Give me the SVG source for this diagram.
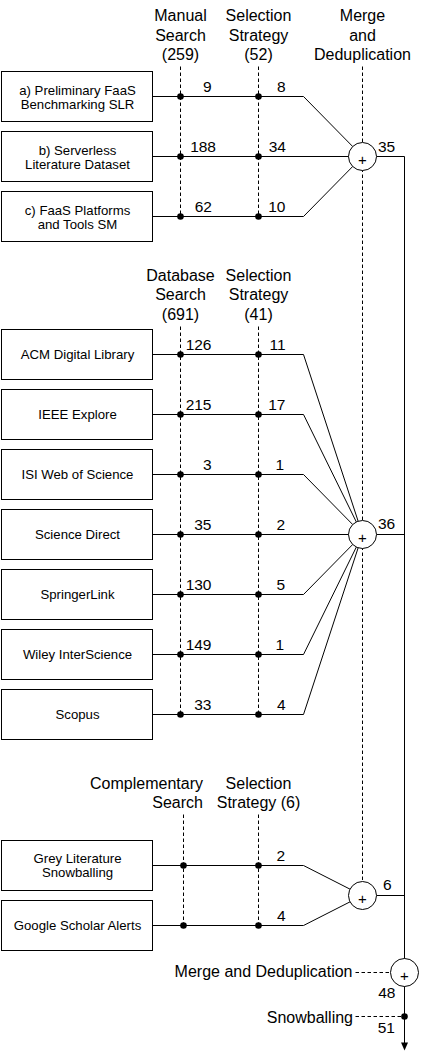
<svg xmlns="http://www.w3.org/2000/svg" width="430" height="1054" viewBox="0 0 430 1054">
<style>
  .box{fill:#fff;stroke:#000;stroke-width:1}
  .bt{font-family:"Liberation Sans",Arial,sans-serif;font-size:13.2px;fill:#000;text-anchor:middle}
  .hd{font-family:"Liberation Sans",Arial,sans-serif;font-size:16px;fill:#000;text-anchor:middle}
  .num{font-family:"Liberation Sans",Arial,sans-serif;font-size:15.5px;fill:#000}
  .ln{fill:none;stroke:#000;stroke-width:1}
  .dash{fill:none;stroke:#000;stroke-width:1;stroke-dasharray:3.5 2.5}
  .dot{fill:#000}
  .circ{fill:#fff;stroke:#000;stroke-width:1}
  .plus{font-family:"Liberation Sans",Arial,sans-serif;font-size:15px;fill:#000;text-anchor:middle}
</style>
<rect width="430" height="1054" fill="#fff"/>
<g transform="translate(0.5,0.5)">

<!-- headers -->
<g id="headers">
  <text class="hd" x="180" y="20.7">Manual</text>
  <text class="hd" x="180" y="40">Search</text>
  <text class="hd" x="180" y="59.3">(259)</text>
  <text class="hd" x="258" y="20.7">Selection</text>
  <text class="hd" x="258" y="40">Strategy</text>
  <text class="hd" x="258" y="59.3">(52)</text>
  <text class="hd" x="362" y="20.7">Merge</text>
  <text class="hd" x="362" y="40">and</text>
  <text class="hd" x="362" y="59.3">Deduplication</text>
  <text class="hd" x="180" y="280.5">Database</text>
  <text class="hd" x="180" y="299.8">Search</text>
  <text class="hd" x="180" y="319.1">(691)</text>
  <text class="hd" x="258" y="280.5">Selection</text>
  <text class="hd" x="258" y="299.8">Strategy</text>
  <text class="hd" x="258" y="319.1">(41)</text>
  <text class="hd" x="202.5" y="788" style="text-anchor:end">Complementary</text>
  <text class="hd" x="202.5" y="807" style="text-anchor:end">Search</text>
  <text class="hd" x="258" y="788">Selection</text>
  <text class="hd" x="258" y="807">Strategy (6)</text>
</g>

<!-- connectors -->
<g id="connectors">
  <!-- dashed columns -->
  <line class="dash" x1="180" y1="66" x2="180" y2="216"/>
  <line class="dash" x1="258" y1="66" x2="258" y2="216"/>
  <line class="dash" x1="362" y1="66" x2="362" y2="881"/>
  <line class="dash" x1="180" y1="326" x2="180" y2="714"/>
  <line class="dash" x1="258" y1="326" x2="258" y2="714"/>
  <line class="dash" x1="183" y1="814" x2="183" y2="925"/>
  <line class="dash" x1="258" y1="814" x2="258" y2="925"/>
  <line class="dash" x1="355" y1="972" x2="389.5" y2="972"/>
  <line class="dash" x1="355" y1="1016" x2="404" y2="1016"/>

  <!-- section 1 -->
  <polyline class="ln" points="152,96 303,96 362,156"/>
  <polyline class="ln" points="152,156 362,156"/>
  <polyline class="ln" points="152,216 303,216 362,156"/>
  <!-- section 2 -->
  <polyline class="ln" points="152,354 303,354 362,534"/>
  <polyline class="ln" points="152,414 303,414 362,534"/>
  <polyline class="ln" points="152,474 303,474 362,534"/>
  <polyline class="ln" points="152,534 362,534"/>
  <polyline class="ln" points="152,594 303,594 362,534"/>
  <polyline class="ln" points="152,654 303,654 362,534"/>
  <polyline class="ln" points="152,714 303,714 362,534"/>
  <!-- section 3 -->
  <polyline class="ln" points="152,865 303,865 362,895"/>
  <polyline class="ln" points="152,925 303,925 362,895"/>

  <!-- outputs -->
  <polyline class="ln" points="376,156 404,156 404,1043"/>
  <line class="ln" x1="376" y1="534" x2="404" y2="534"/>
  <line class="ln" x1="376" y1="895" x2="404" y2="895"/>
  <polygon points="400.5,1042 407.5,1042 404,1050" fill="#000"/>

  <!-- dots -->
  <circle class="dot" cx="180" cy="96" r="3.3"/>
  <circle class="dot" cx="258" cy="96" r="3.3"/>
  <circle class="dot" cx="180" cy="156" r="3.3"/>
  <circle class="dot" cx="258" cy="156" r="3.3"/>
  <circle class="dot" cx="180" cy="216" r="3.3"/>
  <circle class="dot" cx="258" cy="216" r="3.3"/>
  <circle class="dot" cx="180" cy="354" r="3.3"/>
  <circle class="dot" cx="258" cy="354" r="3.3"/>
  <circle class="dot" cx="180" cy="414" r="3.3"/>
  <circle class="dot" cx="258" cy="414" r="3.3"/>
  <circle class="dot" cx="180" cy="474" r="3.3"/>
  <circle class="dot" cx="258" cy="474" r="3.3"/>
  <circle class="dot" cx="180" cy="534" r="3.3"/>
  <circle class="dot" cx="258" cy="534" r="3.3"/>
  <circle class="dot" cx="180" cy="594" r="3.3"/>
  <circle class="dot" cx="258" cy="594" r="3.3"/>
  <circle class="dot" cx="180" cy="654" r="3.3"/>
  <circle class="dot" cx="258" cy="654" r="3.3"/>
  <circle class="dot" cx="180" cy="714" r="3.3"/>
  <circle class="dot" cx="258" cy="714" r="3.3"/>
  <circle class="dot" cx="183" cy="865" r="3.3"/>
  <circle class="dot" cx="258" cy="865" r="3.3"/>
  <circle class="dot" cx="183" cy="925" r="3.3"/>
  <circle class="dot" cx="258" cy="925" r="3.3"/>
  <circle class="dot" cx="404" cy="1016" r="3.3"/>

  <!-- numbers -->
  <g class="num">
    <text x="211" y="91.5" text-anchor="end">9</text>
    <text x="285" y="91.5" text-anchor="end">8</text>
    <text x="215.5" y="151.5" text-anchor="end">188</text>
    <text x="285.5" y="151.5" text-anchor="end">34</text>
    <text x="211.5" y="211.5" text-anchor="end">62</text>
    <text x="285" y="211.5" text-anchor="end">10</text>
    <text x="377.5" y="151.3">35</text>

    <text x="211" y="349.5" text-anchor="end">126</text>
    <text x="285" y="349.5" text-anchor="end">11</text>
    <text x="211" y="409.5" text-anchor="end">215</text>
    <text x="285" y="409.5" text-anchor="end">17</text>
    <text x="211" y="469.5" text-anchor="end">3</text>
    <text x="283.5" y="469.5" text-anchor="end">1</text>
    <text x="211" y="529.5" text-anchor="end">35</text>
    <text x="284.5" y="529.5" text-anchor="end">2</text>
    <text x="211" y="589.5" text-anchor="end">130</text>
    <text x="284.5" y="589.5" text-anchor="end">5</text>
    <text x="211" y="649.5" text-anchor="end">149</text>
    <text x="283.5" y="649.5" text-anchor="end">1</text>
    <text x="211" y="709.5" text-anchor="end">33</text>
    <text x="285" y="709.5" text-anchor="end">4</text>
    <text x="377.5" y="528.8">36</text>

    <text x="284.5" y="860" text-anchor="end">2</text>
    <text x="285" y="920.3" text-anchor="end">4</text>
    <text x="382.5" y="889.6">6</text>

    <text x="395" y="997.8" text-anchor="end">48</text>
    <text x="394.5" y="1032.3" text-anchor="end">51</text>
  </g>
</g>

<!-- merge nodes -->
<g id="merge1"><circle class="circ" cx="362" cy="156" r="14"/><text class="plus" x="362" y="164">+</text></g>
<g id="merge2"><circle class="circ" cx="362" cy="534" r="14"/><text class="plus" x="362" y="542">+</text></g>
<g id="merge3"><circle class="circ" cx="362" cy="895" r="14"/><text class="plus" x="362" y="903">+</text></g>
<g id="merge4"><circle class="circ" cx="404" cy="972" r="14"/><text class="plus" x="404" y="980">+</text></g>
<g id="mergeLabel"><text class="hd" x="352" y="976.5" style="text-anchor:end">Merge and Deduplication</text></g>
<g id="snowballing"><text class="hd" x="352.5" y="1022" style="text-anchor:end">Snowballing</text></g>

<!-- source boxes -->
<g id="box-a"><rect class="box" x="1" y="71" width="151" height="50"/><text class="bt" x="77" y="94">a) Preliminary FaaS</text><text class="bt" x="77" y="108.5">Benchmarking SLR</text></g>
<g id="box-b"><rect class="box" x="1" y="131" width="151" height="50"/><text class="bt" x="77" y="154">b) Serverless</text><text class="bt" x="77" y="168.5">Literature Dataset</text></g>
<g id="box-c"><rect class="box" x="1" y="191" width="151" height="50"/><text class="bt" x="77" y="214">c) FaaS Platforms</text><text class="bt" x="77" y="228.5">and Tools SM</text></g>

<g id="box-acm"><rect class="box" x="1" y="329" width="151" height="50"/><text class="bt" x="77" y="358.7">ACM Digital Library</text></g>
<g id="box-ieee"><rect class="box" x="1" y="389" width="151" height="50"/><text class="bt" x="77" y="418.7">IEEE Explore</text></g>
<g id="box-isi"><rect class="box" x="1" y="449" width="151" height="50"/><text class="bt" x="77" y="478.7">ISI Web of Science</text></g>
<g id="box-sd"><rect class="box" x="1" y="509" width="151" height="50"/><text class="bt" x="77" y="538.7">Science Direct</text></g>
<g id="box-springer"><rect class="box" x="1" y="569" width="151" height="50"/><text class="bt" x="77" y="598.7">SpringerLink</text></g>
<g id="box-wiley"><rect class="box" x="1" y="629" width="151" height="50"/><text class="bt" x="77" y="658.7">Wiley InterScience</text></g>
<g id="box-scopus"><rect class="box" x="1" y="689" width="151" height="50"/><text class="bt" x="77" y="718.7">Scopus</text></g>

<g id="box-grey"><rect class="box" x="1" y="840" width="151" height="50"/><text class="bt" x="77" y="862.5">Grey Literature</text><text class="bt" x="77" y="876.5">Snowballing</text></g>
<g id="box-gsa"><rect class="box" x="1" y="900" width="151" height="50"/><text class="bt" x="77" y="929.7">Google Scholar Alerts</text></g>
</g>
</svg>
